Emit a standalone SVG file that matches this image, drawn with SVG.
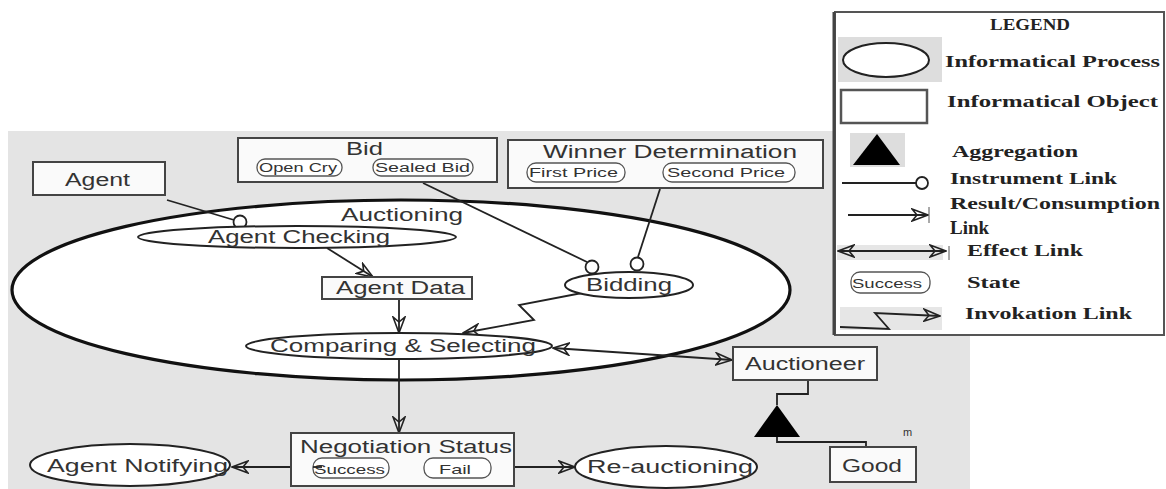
<svg xmlns="http://www.w3.org/2000/svg" width="1166" height="489" viewBox="0 0 1166 489">
<defs>
<style>
.t{font-family:"Liberation Sans",Arial,sans-serif;font-size:18px;fill:#333;}
.s{font-size:12px;}
.m{font-size:13px;}
.lg{font-family:"Liberation Serif","Times New Roman",serif;font-weight:bold;font-size:17px;fill:#222;}
.box{fill:#fafafa;stroke:#444;stroke-width:2;}
.proc{fill:#fff;stroke:#222;stroke-width:2;}
.st{fill:#fff;stroke:#555;stroke-width:1.3;}
.ln{fill:none;stroke:#222;stroke-width:1.8;}
.arr{marker-end:url(#arr);}
.inst{fill:#fff;stroke:#222;stroke-width:1.8;}
</style>
<marker id="arr" viewBox="0 0 18 14" refX="17" refY="7" markerWidth="18" markerHeight="14" markerUnits="userSpaceOnUse" orient="auto-start-reverse">
<path d="M1,1 L17,7 L1,13 L6,7 Z" fill="none" stroke="#222" stroke-width="1.6"/>
</marker>
</defs>
<rect x="8" y="131" width="962" height="358" fill="#e4e4e4"/>

<g id="auctioning">
<ellipse cx="401" cy="290" rx="389" ry="90" fill="#fff" stroke="#111" stroke-width="3.2"/>
<text class="t" x="341" y="221" textLength="122" lengthAdjust="spacingAndGlyphs">Auctioning</text>
</g>

<g id="connectors">
<line class="ln" x1="167" y1="200" x2="234" y2="220"/>
<circle class="inst" cx="240" cy="222" r="6.5"/>
<line class="ln" x1="423" y1="183" x2="587" y2="262"/>
<circle class="inst" cx="592" cy="267" r="6.5"/>
<line class="ln" x1="660" y1="189" x2="638" y2="257"/>
<circle class="inst" cx="637" cy="264" r="6.5"/>
<line class="ln arr" x1="327" y1="248" x2="373" y2="277"/>
<line class="ln arr" x1="399" y1="299" x2="399" y2="333"/>
<polyline class="ln arr" points="582,293 519,305 534,320 463,333"/>
<line class="ln" x1="553" y1="348" x2="732" y2="360" marker-start="url(#arr)" marker-end="url(#arr)"/>
<line class="ln arr" x1="399" y1="359" x2="399" y2="433"/>
<line class="ln arr" x1="318" y1="467" x2="232" y2="467"/>
<line class="ln arr" x1="491" y1="467" x2="575" y2="467"/>
<polyline class="ln" points="808,380 808,394 777,394 777,405"/>
<polyline class="ln" points="777,437 777,442 866,442 866,447"/>
<polygon points="777,405 754,437 800,437" fill="#000"/>
<text class="t" x="903" y="436" style="font-size:11px">m</text>
</g>

<g id="agent">
<rect class="box" x="33" y="162" width="132" height="33"/>
<text class="t" x="65" y="186" textLength="65" lengthAdjust="spacingAndGlyphs">Agent</text>
</g>

<g id="bid">
<rect class="box" x="238" y="138" width="259" height="44"/>
<text class="t" x="346" y="155" textLength="37" lengthAdjust="spacingAndGlyphs">Bid</text>
<rect class="st" x="257" y="159" width="85" height="17" rx="8"/>
<text class="t s" x="259" y="172" textLength="78" lengthAdjust="spacingAndGlyphs">Open Cry</text>
<rect class="st" x="373" y="159" width="100" height="17" rx="8"/>
<text class="t s" x="375" y="172" textLength="95" lengthAdjust="spacingAndGlyphs">Sealed Bid</text>
</g>

<g id="winner-determination">
<rect class="box" x="508" y="140" width="315" height="48"/>
<text class="t" x="543" y="158" textLength="254" lengthAdjust="spacingAndGlyphs">Winner Determination</text>
<rect class="st" x="527" y="163" width="98" height="19" rx="9"/>
<text class="t s" x="529" y="177" textLength="89" lengthAdjust="spacingAndGlyphs">First Price</text>
<rect class="st" x="663" y="163" width="132" height="19" rx="9"/>
<text class="t s" x="667" y="177" textLength="118" lengthAdjust="spacingAndGlyphs">Second Price</text>
</g>

<g id="agent-checking">
<ellipse class="proc" cx="297" cy="237" rx="159" ry="11"/>
<text class="t" x="208" y="243" textLength="182" lengthAdjust="spacingAndGlyphs">Agent Checking</text>
</g>

<g id="agent-data">
<rect class="box" x="322" y="277" width="150" height="22"/>
<text class="t" x="336" y="294" textLength="129" lengthAdjust="spacingAndGlyphs">Agent Data</text>
</g>

<g id="bidding">
<ellipse class="proc" cx="629" cy="285" rx="64" ry="13"/>
<text class="t" x="586" y="291" textLength="86" lengthAdjust="spacingAndGlyphs">Bidding</text>
</g>

<g id="comparing-selecting">
<ellipse class="proc" cx="399" cy="346" rx="153" ry="13"/>
<text class="t" x="270" y="352" textLength="266" lengthAdjust="spacingAndGlyphs">Comparing &amp; Selecting</text>
</g>

<g id="auctioneer">
<rect class="box" x="733" y="347" width="144" height="33"/>
<text class="t" x="745" y="370" textLength="120" lengthAdjust="spacingAndGlyphs">Auctioneer</text>
</g>

<g id="good">
<rect class="box" x="830" y="447" width="86" height="35"/>
<text class="t" x="842" y="472" textLength="60" lengthAdjust="spacingAndGlyphs">Good</text>
</g>

<g id="negotiation-status">
<rect class="box" x="291" y="433" width="223" height="53"/>
<text class="t" x="300" y="453" textLength="212" lengthAdjust="spacingAndGlyphs">Negotiation Status</text>
<rect class="st" x="313" y="458" width="76" height="20" rx="9"/>
<text class="t m" x="314" y="474" textLength="71" lengthAdjust="spacingAndGlyphs">Success</text>
<rect class="st" x="424" y="458" width="67" height="20" rx="9"/>
<text class="t m" x="439" y="474" textLength="32" lengthAdjust="spacingAndGlyphs">Fail</text>
</g>
<line class="ln" x1="313" y1="467" x2="322" y2="467"/>

<g id="agent-notifying">
<ellipse class="proc" cx="130" cy="465" rx="100" ry="21"/>
<text class="t" x="47" y="472" textLength="181" lengthAdjust="spacingAndGlyphs">Agent Notifying</text>
</g>

<g id="re-auctioning">
<ellipse class="proc" cx="666" cy="467" rx="91" ry="21"/>
<text class="t" x="587" y="473" textLength="166" lengthAdjust="spacingAndGlyphs">Re-auctioning</text>
</g>

<g id="legend">
<rect x="835" y="12" width="329" height="323" fill="#fff" stroke="#555" stroke-width="2"/>
<line x1="834" y1="12" x2="834" y2="335" stroke="#444" stroke-width="3"/>
<text class="lg" x="990" y="30" textLength="80" lengthAdjust="spacingAndGlyphs" style="font-size:16px">LEGEND</text>
<rect x="838" y="37" width="104" height="45" fill="#ddd"/>
<ellipse cx="886" cy="60" rx="43" ry="17" fill="#fff" stroke="#222" stroke-width="2"/>
<text class="lg" x="945" y="67" textLength="215" lengthAdjust="spacingAndGlyphs">Informatical Process</text>
<rect x="841" y="90" width="86" height="33" fill="#fff" stroke="#555" stroke-width="2.5"/>
<text class="lg" x="947" y="107" textLength="211" lengthAdjust="spacingAndGlyphs">Informatical Object</text>
<rect x="850" y="133" width="55" height="34" fill="#ddd"/>
<polygon points="877,134 853,165 900,165" fill="#000"/>
<text class="lg" x="952" y="157" textLength="126" lengthAdjust="spacingAndGlyphs">Aggregation</text>
<line x1="842" y1="183" x2="916" y2="183" stroke="#222" stroke-width="1.8"/>
<circle cx="922" cy="183" r="6" fill="#fff" stroke="#222" stroke-width="1.8"/>
<text class="lg" x="950" y="184" textLength="167" lengthAdjust="spacingAndGlyphs">Instrument Link</text>
<line class="ln arr" x1="848" y1="215" x2="928" y2="215"/>
<line x1="929" y1="207" x2="929" y2="223" stroke="#555" stroke-width="1"/>
<text class="lg" x="950" y="209" textLength="210" lengthAdjust="spacingAndGlyphs">Result/Consumption</text>
<text class="lg" x="950" y="234" style="font-size:19px">Link</text>
<rect x="837" y="245" width="106" height="15" fill="#e6e6e6"/>
<line class="ln" x1="838" y1="251" x2="946" y2="251" marker-start="url(#arr)" marker-end="url(#arr)"/>
<line x1="949" y1="246" x2="949" y2="260" stroke="#555" stroke-width="1"/>
<text class="lg" x="967" y="256" textLength="116" lengthAdjust="spacingAndGlyphs">Effect Link</text>
<rect x="851" y="272" width="79" height="21" rx="9" fill="#fff" stroke="#555" stroke-width="1.3"/>
<text class="t m" x="852" y="288" textLength="70" lengthAdjust="spacingAndGlyphs">Success</text>
<text class="lg" x="967" y="288" textLength="53" lengthAdjust="spacingAndGlyphs">State</text>
<rect x="840" y="307" width="102" height="23" fill="#e6e6e6"/>
<polyline class="ln arr" points="840,327 889,329 875,313 940,316"/>
<text class="lg" x="965" y="319" textLength="167" lengthAdjust="spacingAndGlyphs">Invokation Link</text>
</g>
</svg>
